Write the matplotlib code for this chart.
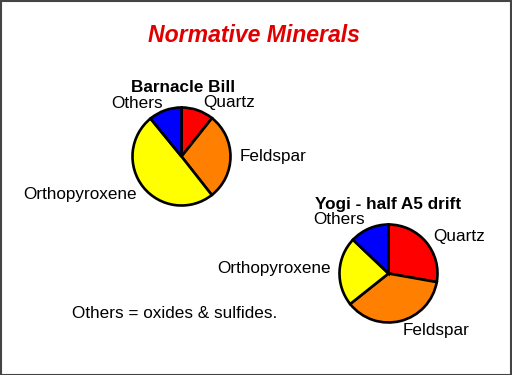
import matplotlib
matplotlib.use("Agg")
import matplotlib.pyplot as plt
from matplotlib.patches import Rectangle

plt.rcParams['font.family'] = ['Liberation Sans', 'DejaVu Sans']

title = "Normative Minerals"
minerals = ["Quartz", "Feldspar", "Orthopyroxene", "Others"]
colors = ["#ff0000", "#ff8000", "#ffff00", "#0000ff"]
bb_name = "Barnacle Bill"
bb_values = [10.7, 28.7, 49.7, 10.9]
yogi_name = "Yogi - half A5 drift"
yogi_values = [27.8, 36.5, 22.8, 12.9]
note = "Others = oxides & sulfides."

W, H = 512, 375
fig = plt.figure(figsize=(W / 100, H / 100), dpi=100)
ax = fig.add_axes([0, 0, 1, 1])

def Y(py):
    return H - py

wp = dict(edgecolor='black', linewidth=1.9)
ax.pie(bb_values, colors=colors, startangle=90, counterclock=False,
       center=(181.5, Y(156.5)), radius=49, wedgeprops=wp, frame=True)
ax.pie(yogi_values, colors=colors, startangle=90, counterclock=False,
       center=(388.5, Y(273.5)), radius=49, wedgeprops=wp, frame=True)
ax.set_xlim(0, W)
ax.set_ylim(0, H)
ax.set_aspect('equal')
ax.axis('off')

fs = 12.3
ax.text(254, Y(36), title, color='#e00000', fontsize=16.6, fontweight='bold',
        fontstyle='italic', ha='center', va='center')

# Barnacle Bill labels
ax.text(183, Y(87), bb_name, fontsize=fs, fontweight='bold', ha='center', va='center')
ax.text(137, Y(103), minerals[3], fontsize=fs, ha='center', va='center')
ax.text(203, Y(103), minerals[0], fontsize=fs, ha='left', va='center')
ax.text(240, Y(157), minerals[1], fontsize=fs, ha='left', va='center')
ax.text(137, Y(194), minerals[2], fontsize=fs, ha='right', va='center')

# Yogi labels
ax.text(388, Y(204), yogi_name, fontsize=fs, fontweight='bold', ha='center', va='center')
ax.text(313, Y(220), minerals[3], fontsize=fs, ha='left', va='center')
ax.text(433, Y(237), minerals[0], fontsize=fs, ha='left', va='center')
ax.text(331, Y(268), minerals[2], fontsize=fs, ha='right', va='center')
ax.text(403, Y(330), minerals[1], fontsize=fs, ha='left', va='center')

ax.text(72, Y(313), note, fontsize=fs, ha='left', va='center')

fig.patches.append(Rectangle((0.5 / W, 0.5 / H), 1 - 1.5 / W, 1 - 1.5 / H,
                             transform=fig.transFigure, fill=False,
                             edgecolor='#444444', linewidth=1.5))

fig.savefig("out.png", dpi=100)
